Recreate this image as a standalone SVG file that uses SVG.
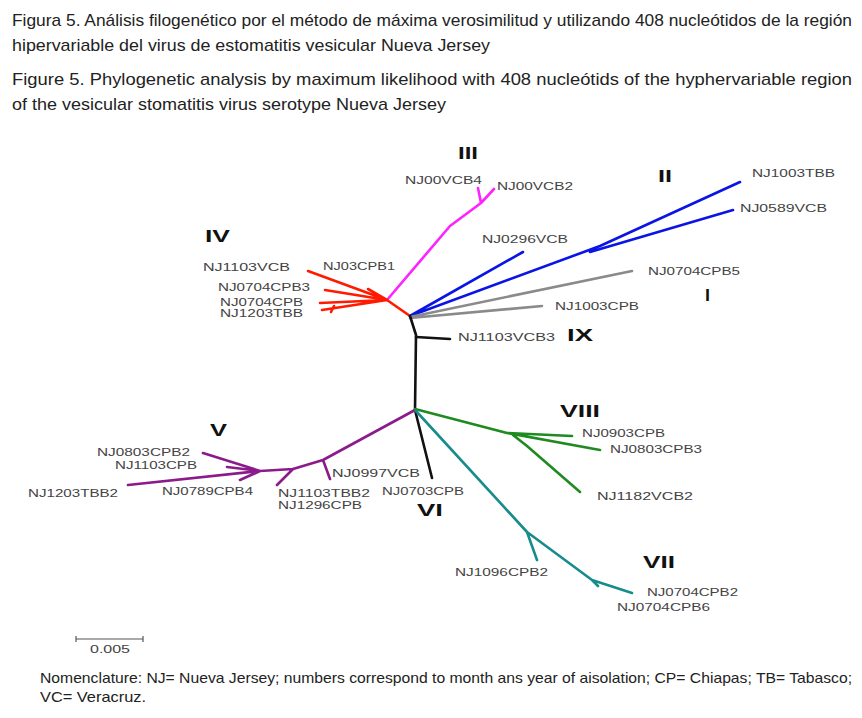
<svg xmlns="http://www.w3.org/2000/svg" width="862" height="718" viewBox="0 0 862 718">
<style>
.cap{font-family:"Liberation Sans",Arial,sans-serif;font-size:17px;fill:#222}
.foot{font-family:"Liberation Sans",Arial,sans-serif;font-size:14.5px;fill:#222}
.lab{font-family:"Liberation Sans",Arial,sans-serif;font-size:10.5px;fill:#444}
.num{font-family:"Liberation Sans",Arial,sans-serif;font-size:16px;font-weight:bold;fill:#111}
.br{fill:none;stroke-width:2.6;stroke-linecap:round;stroke-linejoin:round}
</style>
<rect width="862" height="718" fill="#fff"/>
<g id="caption">
<text class="cap" x="12" y="26" textLength="840" lengthAdjust="spacingAndGlyphs">Figura 5. Análisis filogenético por el método de máxima verosimilitud y utilizando 408 nucleótidos de la región</text>
<text class="cap" x="12" y="51" textLength="478" lengthAdjust="spacingAndGlyphs">hipervariable del virus de estomatitis vesicular Nueva Jersey</text>
<text class="cap" x="12" y="85" textLength="840" lengthAdjust="spacingAndGlyphs">Figure 5. Phylogenetic analysis by maximum likelihood with 408 nucleótids of the hyphervariable region</text>
<text class="cap" x="12" y="110" textLength="434" lengthAdjust="spacingAndGlyphs">of the vesicular stomatitis virus serotype Nueva Jersey</text>
</g>
<g id="connectors">
<path class="br" stroke="#ff22ff" d="M387,300 L450,226 L481,203 L494,189 M481,203 L478,188"/>
<path class="br" stroke="#ff1a00" d="M410,316 L387,300 M387,300 L308,271 M387,300 L325,290 M387,300 L368,289 M387,300 L320,303 M387,300 L322,310 M334,306 L331,312"/>
<path class="br" stroke="#0a14e6" d="M410,316 L523,252 M410,316 L600,246 L740,182 M590,252 L733,210"/>
<path class="br" stroke="#8a8a8a" d="M410,317 L632,271 M410,318 L542,306"/>
<path class="br" stroke="#111" stroke-width="4" d="M410,316 L416,335 L415,410 L432,478"/>
<path class="br" stroke="#111" d="M416,337 L450,339"/>
<path class="br" stroke="#8b1a8b" d="M415,410 L323,460 L293,469 L260,471 M323,460 L330,479 M293,469 L277,485 M260,471 L203,453 M260,471 L227,467 M260,471 L128,485 M260,471 L240,480"/>
<path class="br" stroke="#1f8a1f" d="M415,409 L507,433 L572,436 M507,433 L600,450 M513,435 L527,446 L580,492"/>
<path class="br" stroke="#168c8c" d="M416,411 L527,532 L537,560 M527,532 L592,580 L632,593 M592,580 L598,586"/>
</g>
<g id="cluster-III">
<text class="num" x="458" y="159" textLength="20" lengthAdjust="spacingAndGlyphs">III</text>
<text class="lab" x="405" y="184" textLength="77" lengthAdjust="spacingAndGlyphs">NJ00VCB4</text>
<text class="lab" x="497" y="190" textLength="76" lengthAdjust="spacingAndGlyphs">NJ00VCB2</text>
</g>
<g id="cluster-II">
<text class="num" x="658" y="182" textLength="14" lengthAdjust="spacingAndGlyphs">II</text>
<text class="lab" x="752" y="177" textLength="83" lengthAdjust="spacingAndGlyphs">NJ1003TBB</text>
<text class="lab" x="740" y="212" textLength="87" lengthAdjust="spacingAndGlyphs">NJ0589VCB</text>
<text class="lab" x="482" y="243" textLength="86" lengthAdjust="spacingAndGlyphs">NJ0296VCB</text>
</g>
<g id="cluster-I">
<text class="num" x="705" y="301" textLength="5" lengthAdjust="spacingAndGlyphs">I</text>
<text class="lab" x="648" y="275" textLength="92" lengthAdjust="spacingAndGlyphs">NJ0704CPB5</text>
<text class="lab" x="555" y="310" textLength="84" lengthAdjust="spacingAndGlyphs">NJ1003CPB</text>
</g>
<g id="cluster-IV">
<text class="num" x="205" y="242" textLength="25" lengthAdjust="spacingAndGlyphs">IV</text>
<text class="lab" x="203" y="271" textLength="87" lengthAdjust="spacingAndGlyphs">NJ1103VCB</text>
<text class="lab" x="323" y="270" textLength="72" lengthAdjust="spacingAndGlyphs">NJ03CPB1</text>
<text class="lab" x="218" y="291" textLength="92" lengthAdjust="spacingAndGlyphs">NJ0704CPB3</text>
<text class="lab" x="220" y="306" textLength="83" lengthAdjust="spacingAndGlyphs">NJ0704CPB</text>
<text class="lab" x="220" y="317" textLength="83" lengthAdjust="spacingAndGlyphs">NJ1203TBB</text>
</g>
<g id="cluster-IX">
<text class="lab" x="458" y="341" textLength="97" lengthAdjust="spacingAndGlyphs">NJ1103VCB3</text>
<text class="num" x="567" y="341" textLength="26" lengthAdjust="spacingAndGlyphs">IX</text>
</g>
<g id="cluster-V">
<text class="num" x="210" y="436" textLength="17" lengthAdjust="spacingAndGlyphs">V</text>
<text class="lab" x="97" y="456" textLength="93" lengthAdjust="spacingAndGlyphs">NJ0803CPB2</text>
<text class="lab" x="115" y="469" textLength="82" lengthAdjust="spacingAndGlyphs">NJ1103CPB</text>
<text class="lab" x="28" y="497" textLength="90" lengthAdjust="spacingAndGlyphs">NJ1203TBB2</text>
<text class="lab" x="162" y="495" textLength="91" lengthAdjust="spacingAndGlyphs">NJ0789CPB4</text>
<text class="lab" x="278" y="497" textLength="92" lengthAdjust="spacingAndGlyphs">NJ1103TBB2</text>
<text class="lab" x="278" y="509" textLength="84" lengthAdjust="spacingAndGlyphs">NJ1296CPB</text>
<text class="lab" x="332" y="477" textLength="88" lengthAdjust="spacingAndGlyphs">NJ0997VCB</text>
</g>
<g id="cluster-VI">
<text class="lab" x="382" y="495" textLength="82" lengthAdjust="spacingAndGlyphs">NJ0703CPB</text>
<text class="num" x="417" y="516" textLength="26" lengthAdjust="spacingAndGlyphs">VI</text>
</g>
<g id="cluster-VIII">
<text class="num" x="560" y="417" textLength="40" lengthAdjust="spacingAndGlyphs">VIII</text>
<text class="lab" x="582" y="437" textLength="83" lengthAdjust="spacingAndGlyphs">NJ0903CPB</text>
<text class="lab" x="610" y="453" textLength="92" lengthAdjust="spacingAndGlyphs">NJ0803CPB3</text>
<text class="lab" x="597" y="500" textLength="96" lengthAdjust="spacingAndGlyphs">NJ1182VCB2</text>
</g>
<g id="cluster-VII">
<text class="num" x="643" y="568" textLength="32" lengthAdjust="spacingAndGlyphs">VII</text>
<text class="lab" x="455" y="576" textLength="93" lengthAdjust="spacingAndGlyphs">NJ1096CPB2</text>
<text class="lab" x="647" y="596" textLength="91" lengthAdjust="spacingAndGlyphs">NJ0704CPB2</text>
<text class="lab" x="617" y="611" textLength="93" lengthAdjust="spacingAndGlyphs">NJ0704CPB6</text>
</g>
<g id="scale-bar">
<path d="M76,639 L143,639 M76,636 L76,642 M143,636 L143,642" stroke="#555" stroke-width="1.2" fill="none"/>
<text class="lab" x="90" y="653" textLength="40" lengthAdjust="spacingAndGlyphs">0.005</text>
</g>
<g id="footer">
<text class="foot" x="40" y="683" textLength="812" lengthAdjust="spacingAndGlyphs">Nomenclature: NJ= Nueva Jersey; numbers correspond to month ans year of aisolation; CP= Chiapas; TB= Tabasco;</text>
<text class="foot" x="40" y="702" textLength="106" lengthAdjust="spacingAndGlyphs">VC=  Veracruz.</text>
</g>
</svg>
